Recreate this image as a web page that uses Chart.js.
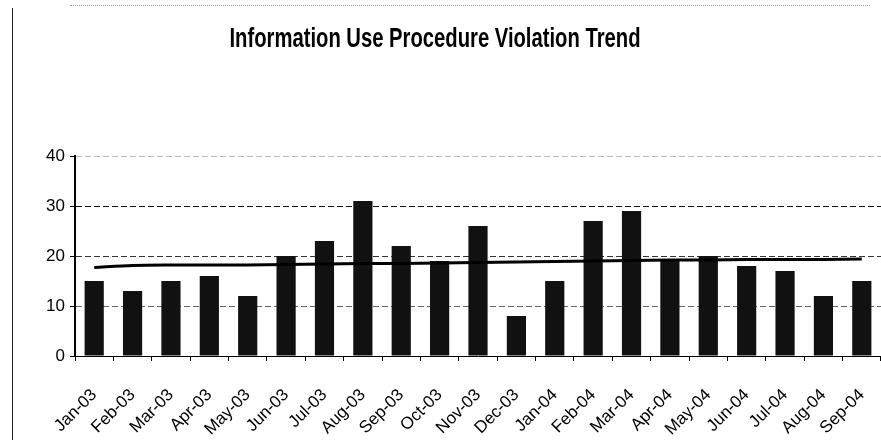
<!DOCTYPE html>
<html>
<head>
<meta charset="utf-8">
<script src="https://cdn.jsdelivr.net/npm/chart.js@4/dist/chart.umd.min.js"></script>
<style>
  html, body { margin: 0; padding: 0; background: #fff; }
  #wrap { position: relative; width: 881px; height: 447px; }
  #frame { position: absolute; left: 12px; top: 8px; height: 432px; border-left: 1px solid #222; }
  #topline { position: absolute; left: 70px; top: 5px; width: 800px; border-top: 1px dotted #999; }
</style>
</head>
<body>
<div id="wrap">
  <div id="frame"></div>
  <div id="topline"></div>
  <canvas id="chart_violazioni" width="881" height="447"></canvas>
</div>
<script>
// mesi e valori
var mesi = ['Jan-03', 'Feb-03', 'Mar-03', 'Apr-03', 'May-03', 'Jun-03', 'Jul-03', 'Aug-03', 'Sep-03', 'Oct-03', 'Nov-03', 'Dec-03',
            'Jan-04', 'Feb-04', 'Mar-04', 'Apr-04', 'May-04', 'Jun-04', 'Jul-04', 'Aug-04', 'Sep-04'];
var violazioni = [15, 13, 15, 16, 12, 20, 23, 31, 22, 19, 26, 8, 15, 27, 29, 19, 20, 18, 17, 12, 15];
// linea di tendenza (letta punto per punto)
var tendenza = [17.7, 18.1, 18.2, 18.2, 18.2, 18.3, 18.4, 18.5, 18.5, 18.6, 18.7, 18.8, 18.9, 19.0, 19.1, 19.2, 19.2, 19.3, 19.3, 19.3, 19.4];
var yTicks = [0, 10, 20, 30, 40];
var titolo = 'Information Use Procedure Violation Trend';

var coloriGriglia = { 0: '#000', 10: '#666', 20: '#333', 30: '#111', 40: '#bbb' };

// titolo stretto come nell'originale (non c'e' un font narrow installato)
var titoloStretto = {
  id: 'titoloStretto',
  afterDraw: function(chart) {
    var ctx = chart.ctx;
    ctx.save();
    ctx.font = "bold 28px 'Liberation Sans', Arial, sans-serif";
    var w = ctx.measureText(titolo).width;
    var sx = 411 / w;
    ctx.translate(435, 47);
    ctx.scale(sx, 1);
    ctx.fillStyle = '#000';
    ctx.textAlign = 'center';
    ctx.textBaseline = 'alphabetic';
    ctx.fillText(titolo, 0, 0);
    ctx.restore();
  }
};

var grafico = new Chart(document.getElementById('chart_violazioni'), {
  type: 'bar',
  data: {
    labels: mesi,
    datasets: [{
      type: 'line',
      label: 'Trend',
      data: tendenza,
      borderColor: '#000',
      borderWidth: 3,
      pointRadius: 0,
      tension: 0.3,
      fill: false,
      order: 0
    }, {
      label: 'Violations',
      data: violazioni,
      backgroundColor: '#111',
      borderWidth: 0,
      barPercentage: 0.5,
      categoryPercentage: 1,
      order: 1
    }]
  },
  plugins: [titoloStretto],
  options: {
    responsive: false,
    animation: false,
    layout: { padding: { left: 0, right: 0, top: 156, bottom: 0 } },
    plugins: {
      legend: { display: false },
      tooltip: { enabled: false },
      title: { display: false }
    },
    scales: {
      x: {
        offset: true,
        grid: { display: true, drawOnChartArea: false, tickLength: 5, color: '#000', offset: true },
        border: { display: true, color: '#000', width: 1 },
        ticks: {
          minRotation: 45, maxRotation: 45, autoSkip: false, padding: 24,
          color: '#000',
          font: { family: "'Liberation Sans', Arial, sans-serif", size: 17 }
        },
        afterFit: function(scale) { scale.height = 91; scale.paddingRight = 0; }
      },
      y: {
        min: 0, max: 40,
        afterBuildTicks: function(scale) { scale.ticks = yTicks.map(function(v) { return { value: v }; }); },
        grid: {
          tickLength: 5,
          lineWidth: 1,
          color: function(ctx) { return coloriGriglia[ctx.tick ? ctx.tick.value : 0] || '#666'; },
          tickColor: '#000'
        },
        border: { display: true, color: '#000', width: 2, dash: [6, 3] },
        ticks: {
          padding: 5,
          color: '#000',
          font: { family: "'Liberation Sans', Arial, sans-serif", size: 17 }
        },
        afterFit: function(scale) { scale.width = 75; }
      }
    }
  }
});
</script>
</body>
</html>
